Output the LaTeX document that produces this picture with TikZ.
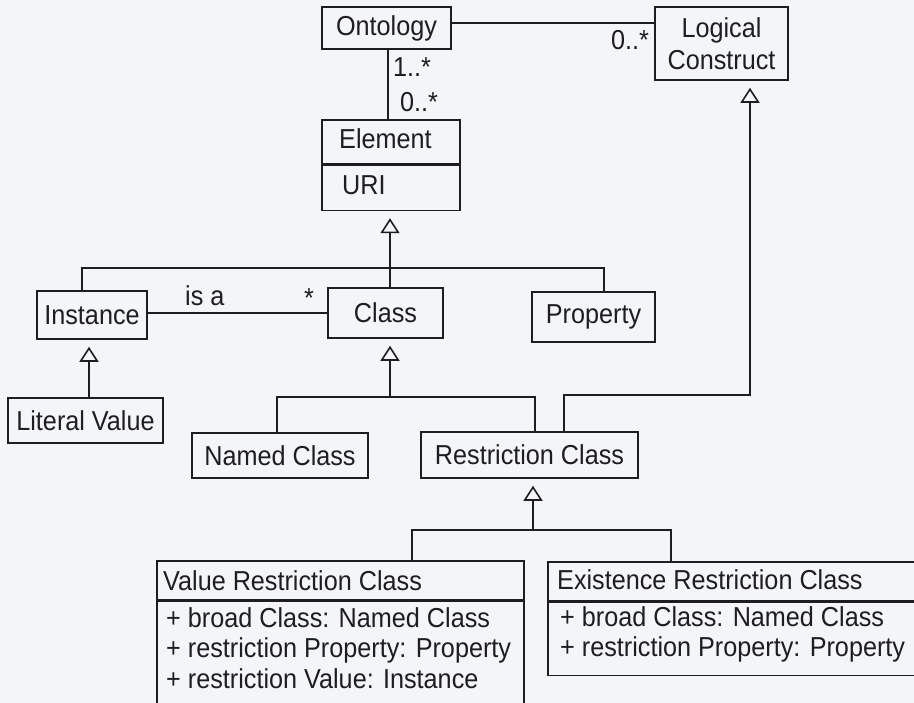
\documentclass[tikz,border=0pt]{standalone}
\usepackage{fontspec}
\setmainfont{Liberation Sans}[FakeStretch=0.92]
\usetikzlibrary{arrows.meta,calc}
\definecolor{paper}{RGB}{244,245,248}
\definecolor{ink}{RGB}{30,30,34}

\begin{document}
\begin{tikzpicture}[x=1pt,y=-1pt,
  font=\fontsize{27.4}{32}\selectfont,
  every node/.style={text=ink},
  line/.style={draw=ink, line width=1.6pt},
  umlbox/.style={draw=ink, line width=1.6pt, rectangle, inner sep=0pt, align=center},
  cell/.style={umlbox, anchor=north west},
  txt/.style={inner sep=0pt, anchor=base west},
  gen/.style={-{Triangle[open, length=15pt, width=19pt]}, shorten >=7pt},
]
% canvas
\fill[paper] (0,0) rectangle (914,703);
\useasboundingbox (0,0) rectangle (914,703);

% ---- classes ----
\node[umlbox, minimum width=129pt, minimum height=42pt] (ont) at (386.5,28) {Ontology};
\node[umlbox, minimum width=133pt, minimum height=73pt] (lc) at (721.5,43.5) {Logical\\Construct};

\node[cell, minimum width=138pt, minimum height=44pt] (elemH) at (321,119) {};
\node[cell, minimum width=138pt, minimum height=45pt] (elemU) at (elemH.south west) {};
\node[txt] (elemT) at (339,149) {Element};
\node[txt] (elemA) at (342,195) {URI};

\node[umlbox, minimum width=110pt, minimum height=48pt] (inst) at (92,315) {Instance};
\node[umlbox, minimum width=115pt, minimum height=50pt] (cls) at (385.5,313) {Class};
\node[umlbox, minimum width=123pt, minimum height=50pt] (prop) at (593.5,317) {Property};
\node[umlbox, minimum width=155pt, minimum height=45pt] (lit) at (85.5,420.5) {Literal Value};
\node[umlbox, minimum width=176pt, minimum height=45pt] (named) at (280,455.5) {Named Class};
\node[umlbox, minimum width=217pt, minimum height=46pt] (restr) at (529.5,455) {Restriction Class};

% Value Restriction Class
\node[cell, minimum width=367pt, minimum height=39pt] (vrcH) at (156,560) {};
\node[cell, minimum width=367pt, minimum height=102pt] (vrcB) at (vrcH.south west) {};
\node[txt] (vrcT) at (163,590) {Value Restriction Class};
\node[txt] (vrc1) at (166,627) {+ broad Class: Named Class};
\node[txt] (vrc2) at (166,657) {+ restriction Property: Property};
\node[txt] (vrc3) at (166,688) {+ restriction Value: Instance};

% Existence Restriction Class
\node[cell, minimum width=369pt, minimum height=39pt] (ercH) at (547,561) {};
\node[cell, minimum width=369pt, minimum height=73pt] (ercB) at (ercH.south west) {};
\node[txt] (ercT) at (557,589) {Existence Restriction Class};
\node[txt] (erc1) at (560,626) {+ broad Class: Named Class};
\node[txt] (erc2) at (560,656) {+ restriction Property: Property};

% ---- associations ----
\draw[line] ([yshift=5pt]ont.east) -- ([yshift=5pt]ont.east -| lc.west);
\node[txt] (mLc) at (611,50) {0..*};

\coordinate (ontX) at (388,0);
\draw[line] (ont.south -| ontX) -- (elemH.north -| ontX);
\node[txt] (mOnt) at (393,77) {1..*};
\node[txt] (mElem) at (400,112) {0..*};

\draw[line] (cls.west) -- (cls.west -| inst.east);
\node[txt] (isa) at (185,306) {is a};
\node[txt] (mCls) at (304,308) {*};

% ---- generalizations ----
\coordinate (bar1L) at (82,268);
\coordinate (bar1M) at (390,268);
\coordinate (bar1R) at (604,268);
\draw[line] (inst.north -| bar1L) -- (bar1L) -- (bar1R) -- (prop.north -| bar1R);
\draw[line] (cls.north -| bar1M) -- (bar1M);
\draw[line, gen] (bar1M) -- (elemU.south -| bar1M);

\coordinate (litX) at (89,0);
\draw[line, gen] (lit.north -| litX) -- (inst.south -| litX);

\coordinate (bar2L) at (277,397);
\coordinate (bar2M) at (390,397);
\coordinate (bar2R) at (535,397);
\draw[line] (named.north -| bar2L) -- (bar2L) -- (bar2R) -- (restr.north -| bar2R);
\draw[line, gen] (bar2M) -- (cls.south -| bar2M);

\coordinate (lcA) at (564,395);
\coordinate (lcB) at (750,395);
\draw[line, gen] (restr.north -| lcA) -- (lcA) -- (lcB) -- (lc.south -| lcB);

\coordinate (bar3L) at (412,530);
\coordinate (bar3M) at (533,530);
\coordinate (bar3R) at (671,530);
\draw[line] (vrcH.north -| bar3L) -- (bar3L) -- (bar3R) -- (ercH.north -| bar3R);
\draw[line, gen] (bar3M) -- (restr.south -| bar3M);
\end{tikzpicture}
\end{document}
